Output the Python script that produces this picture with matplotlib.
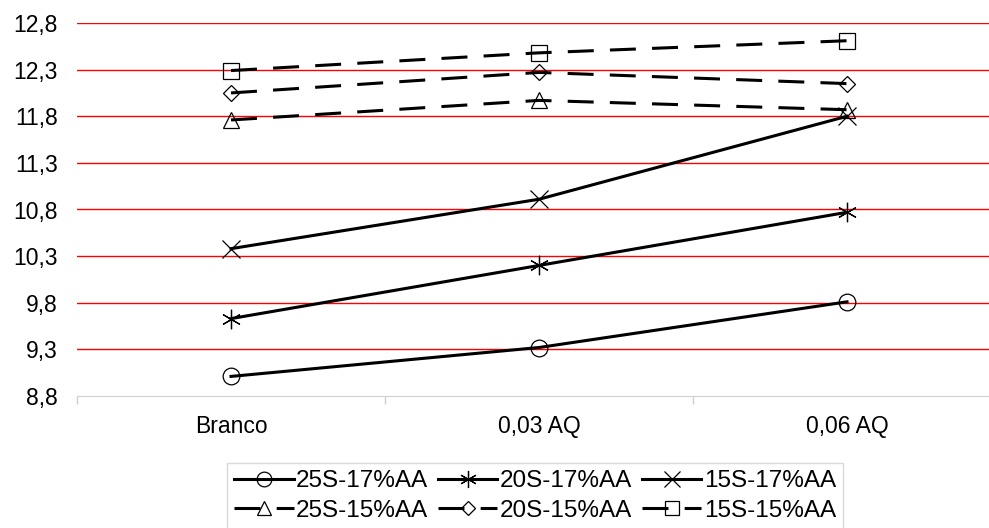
import numpy as np
import matplotlib.pyplot as plt

plt.rcParams["font.family"] = ["Liberation Sans", "DejaVu Sans"]

# data
categories = ["Branco", "0,03 AQ", "0,06 AQ"]
s25_17 = [9.01, 9.32, 9.81]
s20_17 = [9.63, 10.20, 10.77]
s15_17 = [10.38, 10.91, 11.80]
s25_15 = [11.76, 11.97, 11.87]
s20_15 = [12.05, 12.27, 12.15]
s15_15 = [12.29, 12.48, 12.61]
y_ticks = [8.8, 9.3, 9.8, 10.3, 10.8, 11.3, 11.8, 12.3, 12.8]

dash = (0, (8.5, 5.3))
series = [
    ("25S-17%AA", s25_17, "o", 12, "-"),
    ("20S-17%AA", s20_17, (6, 2, 0), 14, "-"),
    ("15S-17%AA", s15_17, "x", 13, "-"),
    ("25S-15%AA", s25_15, "^", 12, dash),
    ("20S-15%AA", s20_15, "D", 8, dash),
    ("15S-15%AA", s15_15, "s", 12, dash),
]

fig = plt.figure(figsize=(9.89, 5.28), dpi=100)
ax = fig.add_axes([77 / 989, 132 / 528, 924 / 989, 373 / 528])

x = np.arange(len(categories))
handles = {}
for name, vals, mk, ms, ls in series:
    h, = ax.plot(x, vals, color="black", lw=2.2, linestyle=ls, marker=mk,
                 markersize=ms, markerfacecolor="none", markeredgecolor="black",
                 markeredgewidth=0.9, label=name, zorder=3)
    handles[name] = h

ax.set_xlim(-0.5, 2.5)
ax.set_ylim(8.8, 12.8)
ax.set_yticks(y_ticks)
ax.set_yticklabels([("%.1f" % v).replace(".", ",") for v in y_ticks], fontsize=16.5)
for v in y_ticks[1:]:
    ax.axhline(v, color="red", lw=1, zorder=1)

ax.set_xticks(x)
ax.set_xticklabels(categories, fontsize=16.5)
ax.tick_params(axis="x", length=0, pad=14)
ax.tick_params(axis="y", length=0, pad=14)
ax.set_xticks([-0.5, 0.5, 1.5, 2.5], minor=True)
ax.tick_params(axis="x", which="minor", length=6, color="#d0d0d0", width=1)

for side in ["left", "right", "top"]:
    ax.spines[side].set_visible(False)
ax.spines["bottom"].set_color("#d0d0d0")

order = ["25S-17%AA", "25S-15%AA", "20S-17%AA", "20S-15%AA", "15S-17%AA", "15S-15%AA"]
leg = fig.legend([handles[n] for n in order], order, loc="upper center",
                 bbox_to_anchor=(0.541, 0.123), ncol=3, fontsize=17.5,
                 frameon=True, fancybox=False, edgecolor="#d0d0d0",
                 handlelength=2.45, handletextpad=0.1, columnspacing=0.4,
                 labelspacing=0.3, borderpad=0.3, borderaxespad=0,
                 markerscale=0.88)
leg.get_frame().set_linewidth(1)

fig.savefig("out.png", dpi=100)
